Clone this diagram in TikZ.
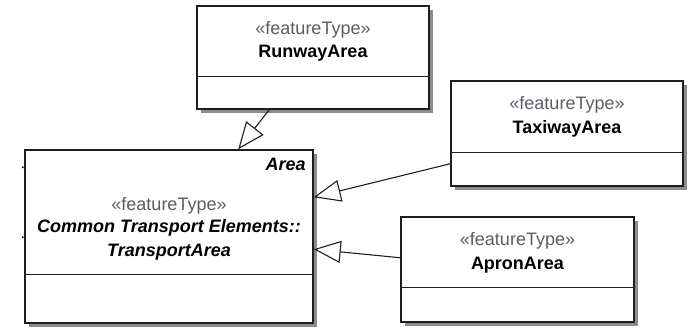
\documentclass[tikz,border=0pt]{standalone}
\usepackage{fontspec}
\setmainfont{Liberation Sans}
\usetikzlibrary{arrows.meta,shadows,calc}
\definecolor{stereo}{RGB}{90,92,105}
\definecolor{boxline}{RGB}{30,30,30}
\tikzset{
  umlbox/.style={draw=boxline, line width=1.5pt, fill=white, rectangle, inner sep=0pt,
    drop shadow={shadow xshift=4pt, shadow yshift=-4pt, fill=black!45, opacity=1}},
  divider/.style={draw=boxline, line width=1.3pt},
  stxt/.style={font=\fontsize{18}{21}\selectfont, text=stereo, inner sep=0pt},
  ntxt/.style={font=\fontsize{18}{21}\selectfont\bfseries, text=black, inner sep=0pt},
  itxt/.style={font=\fontsize{18}{21}\selectfont\bfseries\itshape, text=black, inner sep=0pt},
  gen/.style={draw=boxline, line width=1.1pt, -{Triangle[open, length=27pt, width=22pt, fill=white, line width=1.1pt]}}
}
\begin{document}
\begin{tikzpicture}[x=1pt, y=-1pt]
\useasboundingbox (0,0) rectangle (690,328);
% boxes
\node[umlbox, minimum width=232pt, minimum height=103pt] (run) at (313,57.5) {};
\node[umlbox, minimum width=288pt, minimum height=173pt] (ta) at (169,236.5) {};
\node[umlbox, minimum width=232pt, minimum height=105pt] (taxi) at (567,133.5) {};
\node[umlbox, minimum width=233pt, minimum height=105pt] (apron) at (517.5,269.5) {};
% dividers
\draw[divider] ([yshift=33pt]run.south west) -- ([yshift=33pt]run.south east);
\draw[divider] ([yshift=49pt]ta.south west) -- ([yshift=49pt]ta.south east);
\draw[divider] ([yshift=34pt]taxi.south west) -- ([yshift=34pt]taxi.south east);
\draw[divider] ([yshift=35pt]apron.south west) -- ([yshift=35pt]apron.south east);
% texts
\node[stxt] (runst) at (313,30) {«featureType»};
\node[ntxt] (runnm) at (313,53) {RunwayArea};
\node[stxt] (taxist) at (567,105) {«featureType»};
\node[ntxt] (taxinm) at (567,129) {TaxiwayArea};
\node[stxt] (apst) at (517.5,241) {«featureType»};
\node[ntxt] (apnm) at (517.5,265) {ApronArea};
\node[itxt, anchor=east] (taarea) at ([xshift=-8pt,yshift=-15pt]ta.north east) {Area};
\node[stxt] (tast) at (169,206) {«featureType»};
\node[itxt] (tanm1) at (169,228) {Common Transport Elements::};
\node[itxt] (tanm2) at (169,252) {TransportArea};
% small marks on left edge
\fill[boxline] ([yshift=-18pt,xshift=-1.5pt]ta.north west) circle (1.1pt);
\fill[boxline] ([yshift=-88pt,xshift=-1.5pt]ta.north west) circle (1.1pt);
% generalizations
\draw[gen] ([xshift=73pt]run.south west) -- ([xshift=214pt]ta.north west);
\draw[gen] ([yshift=23pt]taxi.south west) -- ([yshift=-48pt]ta.north east);
\draw[gen] ([yshift=65pt]apron.south west) -- ([yshift=-100pt]ta.north east);
\end{tikzpicture}
\end{document}
